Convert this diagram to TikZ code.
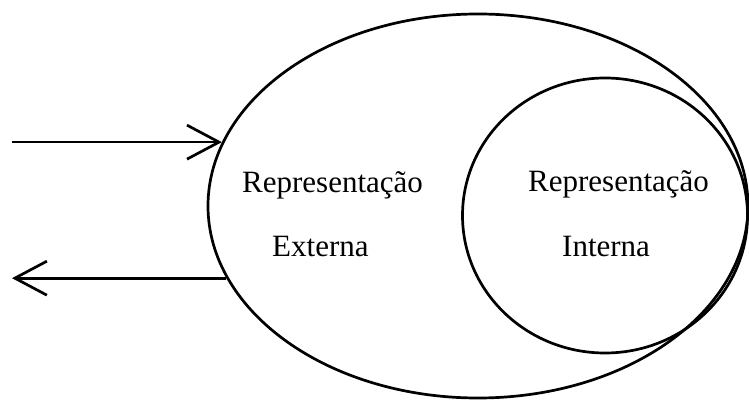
\documentclass[tikz,border=0pt]{standalone}
\usepackage{fontspec}
\setmainfont{Liberation Serif}
\usetikzlibrary{shapes.geometric,arrows.meta}
\begin{document}
\begin{tikzpicture}[x=1pt,y=1pt,
  outline/.style={draw=black,line width=2.7pt,ellipse,inner sep=0pt},
  flow/.style={draw=black,line width=2.7pt,
    -{Straight Barb[length=32pt,width=34pt,line width=2.7pt]}},
  lbl/.style={anchor=base west,inner sep=0pt,font=\fontsize{31}{36}\selectfont}]
\useasboundingbox (0,0) rectangle (749,399);
% outer and inner representation
\node[outline,minimum width=540pt,minimum height=384pt] (ext) at (478,193) {};
\node[outline,minimum width=285pt,minimum height=275pt] (int) at (605,183.5) {};
% labels
\node[lbl] (extA) at (242,206) {Representação};
\node[lbl] (extB) at (272,142) {Externa};
\node[lbl] (intA) at (528,207) {Representação};
\node[lbl] (intB) at (562,142) {Interna};
% input and output arrows, kept horizontal
\coordinate (leftedge) at (12,0);
\path (ext.166.1) coordinate (tipin);
\path (ext.196) coordinate (tailout);
\coordinate (src) at (tipin -| leftedge);
\coordinate (dst) at (tailout -| leftedge);
\draw[flow] (src) -- (tipin);
\draw[flow] (tailout) -- (dst);
\end{tikzpicture}
\end{document}
